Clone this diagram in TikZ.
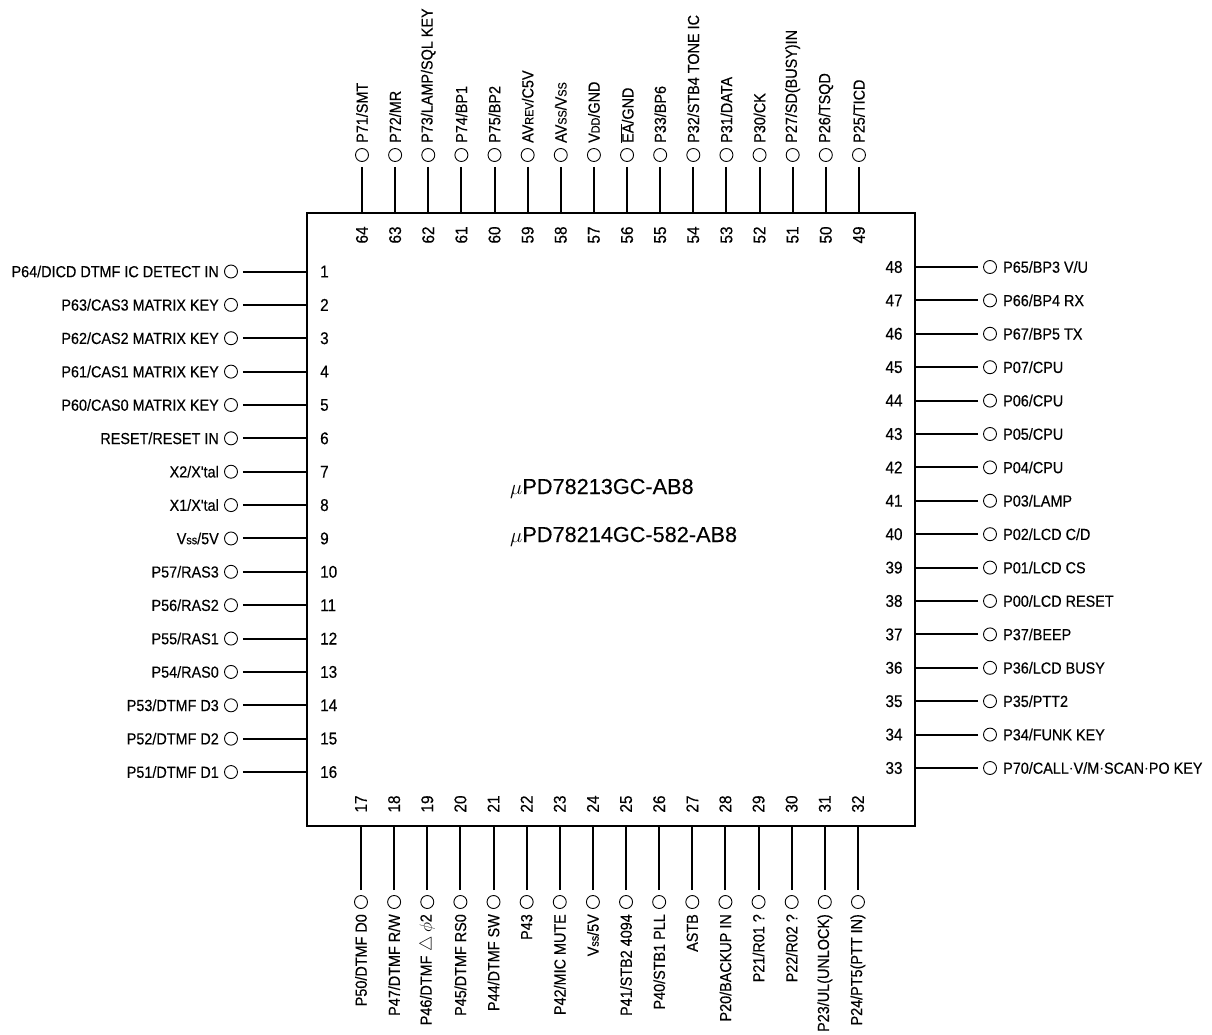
\documentclass[tikz,border=0pt]{standalone}
\usepackage{fontspec}
\newfontfamily\pinfont[FakeStretch=0.9,FakeBold=0.35]{Liberation Sans}
\newfontfamily\partfont[FakeBold=0.2]{Liberation Sans}
\newcommand{\lowtxt}[1]{{\fontsize{12}{12}\selectfont #1}}
\tikzset{
  pad/.style={circle,draw,line width=0.9pt,minimum size=13pt,inner sep=0pt},
  wire/.style={line width=2pt,shorten <=5pt},
  pinlbl/.style={inner sep=0pt,font=\pinfont\fontsize{16}{16}\selectfont},
  pinno/.style={inner sep=0pt,font=\pinfont\fontsize{17}{17}\selectfont},
  parttxt/.style={inner sep=0pt,anchor=base west,font=\partfont\fontsize{21.7}{21.7}\selectfont}
}
\begin{document}
\begin{tikzpicture}[x=1pt,y=-1pt,line cap=butt]
  \useasboundingbox (0,0) rectangle (1212,1035);
  \node[draw,line width=2.8pt,minimum width=608pt,minimum height=613pt,inner sep=0pt] (chip) at (611,519.5) {};

  % left side
  \foreach \n/\t in {1/{P64/DICD DTMF IC DETECT IN},2/{P63/CAS3 MATRIX KEY},3/{P62/CAS2 MATRIX KEY},
      4/{P61/CAS1 MATRIX KEY},5/{P60/CAS0 MATRIX KEY},6/{RESET/RESET IN},7/{X2/X'tal},8/{X1/X'tal},
      9/{V\lowtxt{ss}/5V},10/{P57/RAS3},11/{P56/RAS2},12/{P55/RAS1},13/{P54/RAS0},
      14/{P53/DTMF D3},15/{P52/DTMF D2},16/{P51/DTMF D1}}{
    \pgfmathsetmacro\py{271.5+(\n-1)*33.37}
    \node[pad] (p\n) at (231,\py) {};
    \coordinate (e\n) at (chip.west |- p\n);
    \draw[wire] (p\n) -- (e\n);
    \node[pinlbl,anchor=east] (l\n) at (219,\py) {\t};
    \node[pinno,anchor=west] (n\n) at (320,\py) {\n};
  }

  % right side
  \foreach \n/\t in {48/{P65/BP3 V/U},47/{P66/BP4 RX},46/{P67/BP5 TX},45/{P07/CPU},44/{P06/CPU},
      43/{P05/CPU},42/{P04/CPU},41/{P03/LAMP},40/{P02/LCD C/D},39/{P01/LCD CS},38/{P00/LCD RESET},
      37/{P37/BEEP},36/{P36/LCD BUSY},35/{P35/PTT2},34/{P34/FUNK KEY},33/{P70/CALL$\cdot$V/M$\cdot$SCAN$\cdot$PO KEY}}{
    \pgfmathsetmacro\py{267+(48-\n)*33.4}
    \node[pad] (p\n) at (990,\py) {};
    \coordinate (e\n) at (chip.east |- p\n);
    \draw[wire] (p\n) -- (e\n);
    \node[pinlbl,anchor=west] (l\n) at (1003,\py) {\t};
    \node[pinno] (n\n) at (894,\py) {\n};
  }

  % top side
  \foreach \n/\t in {64/{P71/SMT},63/{P72/MR},62/{P73/LAMP/SQL KEY},61/{P74/BP1},60/{P75/BP2},
      59/{AV\lowtxt{REV}/C5V},58/{AV\lowtxt{SS}/V\lowtxt{SS}},57/{V\lowtxt{DD}/GND},56/{$\overline{\mbox{EA}}$/GND},
      55/{P33/BP6},54/{P32/STB4 TONE IC},53/{P31/DATA},52/{P30/CK},51/{P27/SD(BUSY)IN},50/{P26/TSQD},49/{P25/TICD}}{
    \pgfmathsetmacro\px{362+(64-\n)*33.13}
    \node[pad] (p\n) at (\px,155) {};
    \coordinate (e\n) at (chip.north -| p\n);
    \draw[wire] (p\n) -- (e\n);
    \node[pinlbl,rotate=90,anchor=west] (l\n) at (\px,143) {\t};
    \node[pinno,rotate=90] (n\n) at (\px,235) {\n};
  }

  % bottom side
  \foreach \n/\t in {17/{P50/DTMF D0},18/{P47/DTMF R/W},19/{P46/DTMF $\triangle$ $\phi$2},20/{P45/DTMF RS0},
      21/{P44/DTMF SW},22/{P43},23/{P42/MIC MUTE},24/{V\lowtxt{ss}/5V},25/{P41/STB2 4094},26/{P40/STB1 PLL},
      27/{ASTB},28/{P20/BACKUP IN},29/{P21/R01 ?},30/{P22/R02 ?},31/{P23/UL(UNLOCK)},32/{P24/PT5(PTT IN)}}{
    \pgfmathsetmacro\px{361+(\n-17)*33.13}
    \node[pad] (p\n) at (\px,902) {};
    \coordinate (e\n) at (chip.south -| p\n);
    \draw[wire] (p\n) -- (e\n);
    \node[pinlbl,rotate=90,anchor=east] (l\n) at (\px,914) {\t};
    \node[pinno,rotate=90] (n\n) at (\px,804) {\n};
  }

  \node[parttxt] (part1) at (510,494) {$\mu$PD78213GC-AB8};
  \node[parttxt] (part2) at (510,542) {$\mu$PD78214GC-582-AB8};
\end{tikzpicture}
\end{document}
